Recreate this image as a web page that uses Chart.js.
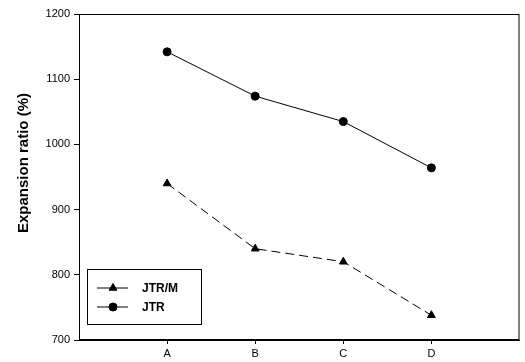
<!DOCTYPE html>
<html lang="en">
<head>
    <meta charset="UTF-8">
    <script src="https://cdn.jsdelivr.net/npm/chart.js"></script>
    <title>Expansion ratio</title>
    <style>
        html, body { margin: 0; padding: 0; background: #fff; }
        #wrap { width: 525px; height: 362px; }
    </style>
</head>
<body>

<div id="wrap"><canvas id="myChart"></canvas></div>

<script>
    // positions on the x axis: 0 and 5 are empty space at the edges
    const xPositions = [1, 2, 3, 4];
    const categories = ['A', 'B', 'C', 'D'];
    const jtrM = [940, 840, 820, 738];
    const jtr = [1142, 1074, 1035, 964];
    const yTicks = [700, 800, 900, 1000, 1100, 1200];
    const yTitle = 'Expansion ratio (%)';

    const toPoints = (vals) => vals.map((v, i) => ({x: xPositions[i], y: v}));

    // full box round the plot area
    const boxPlugin = {
        id: 'plotBox',
        afterDraw: (chart) => {
            const {ctx, chartArea} = chart;
            ctx.save();
            ctx.strokeStyle = '#000';
            ctx.lineWidth = 1;
            ctx.strokeRect(chartArea.left + 0.5, chartArea.top + 0.5,
                chartArea.right - chartArea.left - 1, chartArea.bottom - chartArea.top - 1);
            ctx.restore();
        }
    };

    // y title sits a little above the middle in the original
    const titlePlugin = {
        id: 'yTitle',
        afterDraw: (chart) => {
            const {ctx} = chart;
            ctx.save();
            ctx.translate(24, 163);
            ctx.rotate(-Math.PI / 2);
            ctx.font = 'bold 15px "Liberation Sans", Arial, sans-serif';
            ctx.fillStyle = '#000';
            ctx.textAlign = 'center';
            ctx.textBaseline = 'middle';
            ctx.fillText(yTitle, 0, 0);
            ctx.restore();
        }
    };

    // legend drawn inside the plot, bottom left
    const legendPlugin = {
        id: 'innerLegend',
        afterDraw: (chart) => {
            const {ctx} = chart;
            const bx = 87.5, by = 269.5, bw = 114, bh = 55;
            ctx.save();
            ctx.fillStyle = '#fff';
            ctx.fillRect(bx, by, bw, bh);
            ctx.strokeStyle = '#000';
            ctx.lineWidth = 1;
            ctx.strokeRect(bx, by, bw, bh);
            const rows = [288, 307];
            chart.data.datasets.forEach((ds, i) => {
                const y = rows[i];
                ctx.beginPath();
                ctx.moveTo(97, y);
                ctx.lineTo(128, y);
                ctx.strokeStyle = '#000';
                ctx.setLineDash([]);
                ctx.stroke();
                Chart.helpers.drawPoint(ctx, {
                    pointStyle: ds.pointStyle,
                    radius: ds.pointRadius,
                    borderWidth: 1
                }, 113, y);
                ctx.fillStyle = '#000';
                ctx.fill();
                ctx.font = 'bold 12px "Liberation Sans", Arial, sans-serif';
                ctx.textBaseline = 'middle';
                ctx.textAlign = 'left';
                ctx.fillText(ds.label, 142, y + 1);
            });
            ctx.restore();
        }
    };

    const ctx = document.getElementById('myChart').getContext('2d');

    new Chart(ctx, {
        type: 'line',
        data: {
            datasets: [{
                label: 'JTR/M',
                data: toPoints(jtrM),
                borderColor: '#000',
                backgroundColor: '#000',
                borderWidth: 1,
                borderDash: [9, 5],
                pointStyle: 'triangle',
                pointRadius: 4.5,
                pointBorderWidth: 1
            }, {
                label: 'JTR',
                data: toPoints(jtr),
                borderColor: '#000',
                backgroundColor: '#000',
                borderWidth: 1,
                pointStyle: 'circle',
                pointRadius: 4,
                pointBorderWidth: 1
            }]
        },
        options: {
            responsive: true,
            maintainAspectRatio: false,
            animation: false,
            layout: {
                padding: {top: 14, right: 2, left: 0, bottom: 0}
            },
            plugins: {
                legend: {display: false},
                tooltip: {enabled: false}
            },
            scales: {
                x: {
                    type: 'linear',
                    min: 0,
                    max: 5,
                    afterBuildTicks: (scale) => {
                        scale.ticks = xPositions.map(v => ({value: v}));
                    },
                    afterFit: (scale) => { scale.height = 22; },
                    grid: {
                        display: true,
                        drawOnChartArea: false,
                        drawTicks: true,
                        tickLength: 4,
                        color: '#000'
                    },
                    border: {display: true, color: '#000', width: 1},
                    ticks: {
                        color: '#000',
                        padding: 3,
                        font: {family: '"Liberation Sans", Arial, sans-serif', size: 11},
                        callback: (v) => categories[xPositions.indexOf(v)] || ''
                    }
                },
                y: {
                    min: 700,
                    max: 1200,
                    afterBuildTicks: (scale) => {
                        scale.ticks = yTicks.map(v => ({value: v}));
                    },
                    afterFit: (scale) => { scale.width = 79; },
                    grid: {
                        display: true,
                        drawOnChartArea: false,
                        drawTicks: true,
                        tickLength: 5,
                        color: '#000'
                    },
                    border: {display: true, color: '#000', width: 1},
                    ticks: {
                        color: '#000',
                        padding: 4,
                        font: {family: '"Liberation Sans", Arial, sans-serif', size: 11},
                        callback: (v) => String(v)
                    }
                }
            }
        },
        plugins: [boxPlugin, titlePlugin, legendPlugin]
    });
</script>

</body>
</html>
